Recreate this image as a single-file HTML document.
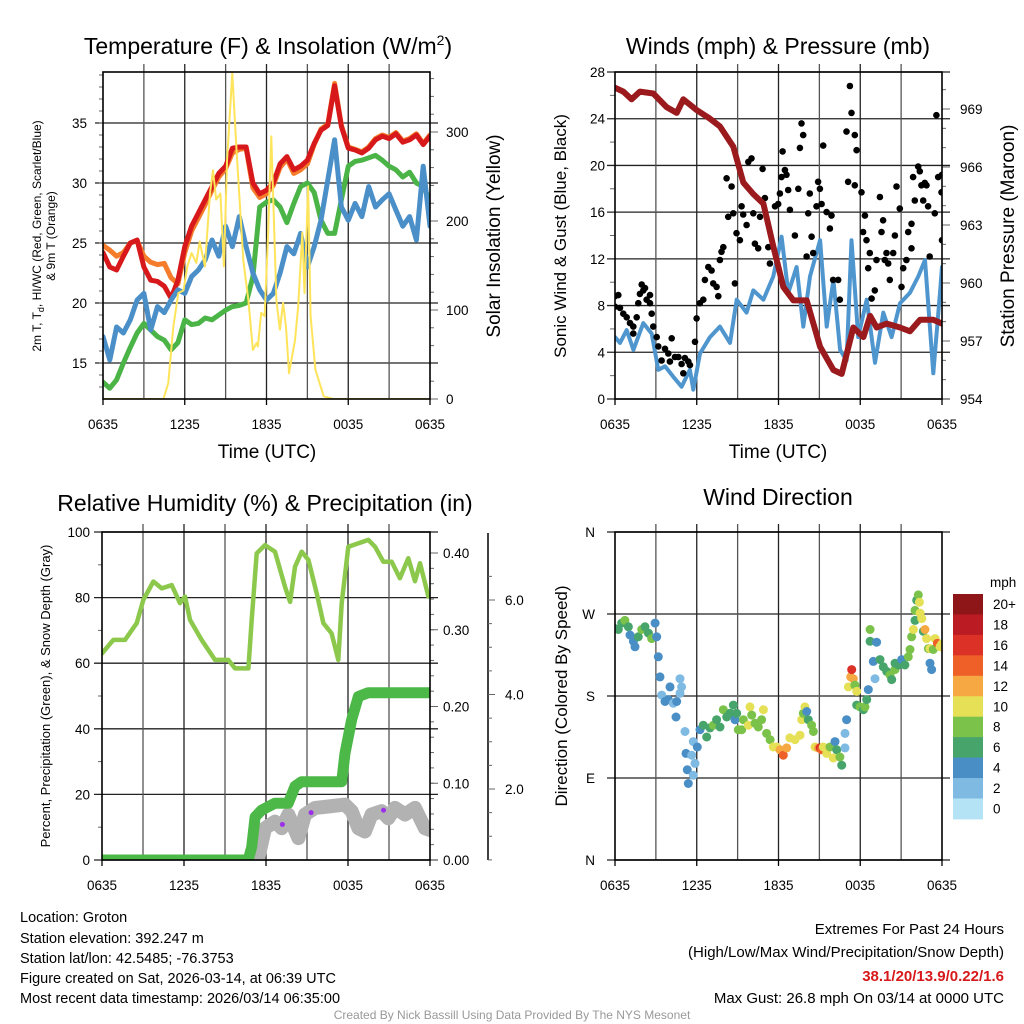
<!DOCTYPE html>
<html><head><meta charset="utf-8"><style>
html,body{margin:0;padding:0;background:#fff;}
svg{display:block;font-family:"Liberation Sans",Arial,sans-serif;}
</style></head><body>
<svg id="chart" width="1024" height="1024" viewBox="0 0 1024 1024" xmlns="http://www.w3.org/2000/svg">
<defs>
<clipPath id="c1"><rect x="103" y="72" width="327" height="327"/></clipPath>
<clipPath id="c2"><rect x="615" y="72" width="327" height="327"/></clipPath>
<clipPath id="c3"><rect x="102" y="532" width="328" height="328"/></clipPath>
<clipPath id="c4"><rect x="615" y="532" width="327" height="328"/></clipPath>
</defs>
<g id="g1"></g>
<g id="g2"></g>
<g id="g3"></g>
<g id="g4"></g>

<text x="268" y="54" font-size="23" text-anchor="middle">Temperature (F) &amp; Insolation (W/m<tspan font-size="14" dy="-9">2</tspan><tspan dy="9">)</tspan></text>
<text x="778" y="54" font-size="23" text-anchor="middle">Winds (mph) &amp; Pressure (mb)</text>
<text x="265" y="511" font-size="23" text-anchor="middle">Relative Humidity (%) &amp; Precipitation (in)</text>
<text x="778" y="505" font-size="23" text-anchor="middle">Wind Direction</text>

<text x="267" y="458" font-size="19" text-anchor="middle">Time (UTC)</text>
<text x="778" y="458" font-size="19" text-anchor="middle">Time (UTC)</text>

<text transform="translate(41,236) rotate(-90)" font-size="12" text-anchor="middle">2m T, T<tspan font-size="9" dy="3">d</tspan><tspan dy="-3">, HI/WC (Red, Green, Scarlet/Blue)</tspan></text>
<text transform="translate(55,236) rotate(-90)" font-size="12" text-anchor="middle">&amp; 9m T (Orange)</text>
<text transform="translate(500,236) rotate(-90)" font-size="19" text-anchor="middle">Solar Insolation (Yellow)</text>
<text transform="translate(566,236) rotate(-90)" font-size="17" text-anchor="middle">Sonic Wind &amp; Gust (Blue, Black)</text>
<text transform="translate(1014,236) rotate(-90)" font-size="19" text-anchor="middle">Station Pressure (Maroon)</text>
<text transform="translate(50,696) rotate(-90)" font-size="13" text-anchor="middle">Percent, Precipitation (Green), &amp; Snow Depth (Gray)</text>
<text transform="translate(567,696) rotate(-90)" font-size="17" text-anchor="middle">Direction (Colored By Speed)</text>

<g font-size="14.5">
<text x="20" y="922">Location: Groton</text>
<text x="20" y="943">Station elevation: 392.247 m</text>
<text x="20" y="963">Station lat/lon: 42.5485; -76.3753</text>
<text x="20" y="983">Figure created on Sat, 2026-03-14, at 06:39 UTC</text>
<text x="20" y="1003">Most recent data timestamp: 2026/03/14 06:35:00</text>
</g>
<g font-size="15" text-anchor="end">
<text x="1004" y="934">Extremes For Past 24 Hours</text>
<text x="1004" y="957">(High/Low/Max Wind/Precipitation/Snow Depth)</text>
<text x="1004" y="981" fill="#d7191c" font-weight="bold">38.1/20/13.9/0.22/1.6</text>
<text x="1004" y="1003">Max Gust: 26.8 mph On 03/14 at 0000 UTC</text>
</g>
<text x="512" y="1019" font-size="12" fill="#999" text-anchor="middle">Created By Nick Bassill Using Data Provided By The NYS Mesonet</text>
</svg>
<script>
// ---------- DATA ----------
const timeLabels = ["0635","1235","1835","0035","0635"];
const tempRed = [24.2,23.0,22.75,23.9,25.0,25.25,23.0,21.9,21.8,21.4,20.4,21.9,24.7,26.4,27.5,28.6,29.7,30.8,31.4,32.9,33.0,33.0,30.0,29.1,29.4,30.0,31.6,32.2,31.1,31.4,31.9,33.3,34.4,34.8,38.1,34.7,32.9,32.75,32.5,32.9,33.6,33.9,33.7,34.1,33.4,33.6,34.0,33.2,33.9];
const tempOrange = [24.8,24.4,23.9,24.2,25.0,25.2,23.9,23.4,23.2,23.3,22.1,21.6,24.2,26.0,27.1,28.2,29.4,30.5,31.2,32.5,32.8,32.9,29.6,28.8,29.1,29.8,31.3,32.0,30.8,31.1,31.6,33.2,34.5,34.9,38.3,34.8,33.0,32.8,32.6,33.0,33.7,34.0,33.8,34.2,33.5,33.7,34.1,33.3,34.0];
const dewGreen = [13.4,12.9,13.6,15.0,16.3,17.5,18.3,17.75,17.2,16.9,16.1,16.7,18.6,18.2,18.3,18.75,18.6,19.0,19.4,19.7,19.8,20.0,22.2,28.0,28.4,28.6,28.0,26.7,28.3,29.7,30.0,29.2,26.9,25.8,25.8,28.6,31.4,31.8,31.9,32.1,32.3,31.9,31.4,31.1,30.5,30.9,30.0,29.7,28.6];
const wcBlue = [17.2,15.25,18.0,17.5,18.6,20.25,20.8,17.75,19.7,19.2,20.25,21.1,20.8,22.2,22.75,23.6,25.25,23.9,26.4,24.7,27.2,24.7,22.5,21.1,20.25,20.8,22.5,24.7,24.1,25.8,23.0,24.7,26.9,30.25,33.6,28.0,26.9,28.3,27.2,29.7,28.0,28.6,29.1,27.75,26.4,27.2,25.25,31.4,26.4];
const solarHours = [0,4.43,4.79,5.16,5.53,5.91,6.19,6.5,6.85,7.1,7.48,7.85,8.07,8.31,8.62,8.87,9.11,9.49,9.81,10.3,10.67,11.0,11.27,11.37,11.61,11.86,12.11,12.35,12.73,12.98,13.22,13.43,13.65,14.09,14.33,14.63,14.79,15.05,15.24,15.59,16.2,16.9,24];
const solarValues = [0,0,18,81,119,122,149,164,153,177,149,231,257,224,231,149,269,366,276,156,111,55,63,59,97,93,182,295,111,78,108,81,29,66,104,187,119,239,93,33,3,0,0];
const windHours = [0,0.37,0.86,1.35,2.08,2.69,3.18,3.67,4.28,4.89,5.5,5.75,6.24,6.97,7.7,8.44,8.93,9.66,10.15,10.89,11.62,12.23,12.72,13.33,13.82,14.31,15.05,15.54,16.03,16.52,17.0,17.36,17.85,18.47,19.08,19.69,20.3,20.92,21.65,22.26,22.75,23.36,23.85,24];
const windSpeed = [5.3,4.8,5.9,4.2,6.5,5.6,2.5,2.8,1.9,1.05,2.5,0.8,3.9,5.3,6.2,4.8,8.5,7.4,9.3,8.5,10.5,13.9,9.1,11.3,6.2,10.5,13.6,6.2,10.2,4.2,3.3,13.6,5.3,8.5,3.1,7.4,5.3,8.2,9.1,10.5,11.9,2.2,9.1,11.3];
const presHours = [0,0.61,1.22,1.83,2.81,3.79,4.53,5.01,5.99,6.97,7.7,8.68,9.42,10.15,10.89,11.62,12.35,13.09,14.07,15.05,16.03,16.64,17.49,18.23,18.72,19.21,19.94,20.92,21.65,22.39,23.36,24];
const presValues = [970.1,969.9,969.5,969.9,969.8,969.1,968.8,969.5,968.95,968.5,968.1,967.05,965.2,964.6,964.1,961.9,959.8,959.1,959.1,956.7,955.5,955.3,957.7,957.2,958.3,957.7,957.9,957.7,957.5,958.1,958.1,957.9];
const gustHours = [0,0.24,0,0.37,0.61,0.86,1.10,1.34,1.34,1.59,1.71,1.83,1.96,2.08,2.20,2.32,2.57,2.57,2.69,2.81,3.06,3.18,3.42,3.67,3.91,4.16,4.03,4.40,4.65,4.89,5.01,5.13,5.38,5.50,5.87,5.99,6.23,6.48,6.60,6.85,7.09,7.21,7.46,7.58,7.70,7.82,7.95,8.19,8.31,8.56,8.68,8.80,8.92,9.17,9.29,9.41,9.66,9.78,10.02,10.15,10.27,10.51,10.64,10.83,11.00,11.25,11.37,11.74,11.98,12.10,12.22,12.30,12.47,12.59,12.71,12.84,13.20,13.45,13.57,13.69,13.81,14.06,14.18,14.30,14.43,14.55,14.79,14.91,15.04,15.16,15.28,15.53,15.77,15.89,16.01,16.38,16.50,16.99,17.11,17.24,17.36,17.60,17.73,17.60,18.09,18.21,18.34,18.46,18.70,18.58,18.83,19.07,19.19,19.44,19.56,19.68,19.80,20.05,20.17,20.42,20.54,20.66,20.90,21.15,21.39,21.52,21.76,21.88,22.00,22.25,22.37,22.49,22.62,22.86,22.98,23.10,23.47,23.59,23.72,23.96,24,24,22.74,21.03,19.93,21.76];
const gustSpeed = [8.8,8.9,7.9,7.8,7.3,7.0,6.5,5.6,6.2,7.0,8.2,9.0,9.8,9.3,9.5,8.5,8.9,8.2,7.3,6.2,5.3,4.5,3.3,4.3,3.9,5.2,3.2,3.6,3.6,3.0,2.2,3.5,3.2,2.9,4.9,6.9,8.2,8.5,10.2,11.3,11.0,9.9,9.6,8.8,11.9,12.6,13.0,18.9,15.6,18.2,15.9,9.9,14.2,13.6,16.5,15.8,14.9,20.3,20.6,15.9,13.3,12.9,15.6,19.7,17.2,13.0,11.6,16.5,16.7,17.6,19.0,21.2,19.6,19.2,17.9,16.2,14.0,18.0,21.5,23.6,22.6,12.2,15.9,17.6,13.9,12.5,16.5,18.6,18.0,16.7,21.7,16.0,14.6,15.7,10.2,10.2,8.5,22.9,18.6,26.8,24.5,22.6,21.3,18.3,17.7,14.3,15.7,13.6,12.5,11.2,8.6,9.3,11.9,17.3,14.3,15.3,11.9,11.6,10.2,12.5,14.0,18.2,16.3,11.2,11.9,14.3,15.0,19.0,17.0,19.9,19.5,18.3,17.0,18.3,16.5,12.2,15.9,24.3,19.0,17.7,13.6,19.2,18.5,9.6,12.5,12.9];
const rhHours = [0,0.83,1.68,2.54,3.02,3.76,4.37,5.1,5.71,6.07,6.44,7.29,8.27,9.24,9.73,10.71,10.95,11.32,11.93,12.66,13.39,13.76,14.12,14.61,15.1,15.71,16.2,16.8,17.29,17.54,18.02,19.49,19.98,20.59,21.2,21.8,22.41,22.9,23.27,23.88,24];
const rhValues = [63.0,67.1,67.1,72.2,79.3,84.9,82.8,83.8,78.3,80.3,73.2,67.1,61.0,61.0,58.4,58.4,73.2,93.5,96.0,94.0,83.3,78.7,89.4,94.0,91.5,81.3,72.2,69.1,61.0,78.3,95.5,97.6,95.5,90.9,90.9,85.9,92.0,85.0,90.5,80.3,80.3];
const precipHours = [0,10.7,10.95,11.2,11.68,12.66,13.63,14.12,14.6,17.54,17.78,18.27,18.76,19.49,24];
const precipValues = [0,0,0.017,0.056,0.065,0.074,0.074,0.096,0.102,0.102,0.139,0.183,0.213,0.218,0.218];
const snowHours = [11.2,11.44,11.93,12.66,13.15,13.63,14.37,14.85,15.59,16.56,17.78,18.27,18.76,19.24,19.73,20.46,20.95,21.44,22.17,22.9,23.63,24];
const snowValues = [0.4,0.54,1.17,1.31,1.17,1.46,0.96,1.46,1.60,1.63,1.67,1.53,1.17,1.10,1.46,1.53,1.38,1.60,1.46,1.60,1.17,1.13];
const dirHours = [0,.24,.49,.73,.98,1.1,1.35,1.47,1.71,1.96,2.2,2.45,2.69,2.94,3.06,3.18,3.3,3.43,3.67,3.91,4.04,4.28,4.53,4.77,4.89,4.77,4.48,5.14,5.21,5.31,5.38,5.63,5.75,5.87,5.75,6.04,6.24,6.48,6.73,6.97,7.22,7.46,7.71,7.95,8.2,8.44,8.69,8.81,8.93,9.05,9.3,9.42,9.79,9.91,10.03,10.28,10.52,10.76,10.89,11.13,11.38,11.62,11.87,12.11,12.35,12.6,12.84,13.21,13.58,13.7,13.82,13.94,14.07,14.19,14.43,14.56,14.68,14.92,15.05,15.17,15.29,15.54,15.78,16.02,16.15,16.27,16.51,16.64,16.88,16.88,17,17.13,17.3,17.37,17.49,17.61,17.74,17.74,17.98,18.23,18.35,18.47,18.59,18.72,18.72,19.2,18.96,19.08,19.45,19.69,19.94,20.18,20.31,20.55,20.55,20.8,21.04,21.28,21.53,21.65,21.77,21.9,22.02,22.02,22.14,22.26,22.34,22.39,22.51,22.63,22.75,22.87,23,23.12,23.24,23.36,23.49,23.66,23.85,23.98,23.12];
const dirDegrees = [254,253,260,263,256,247,240,234,245,253,256,249,243,260,245,223,201,181,174,176,190,172,174,199,190,183,157,141,117,99,84,115,130,106,93,124,143,148,135,145,148,154,146,165,157,161,170,154,161,143,143,154,148,168,159,150,146,154,165,139,132,124,124,121,115,123,134,132,137,154,161,168,163,154,148,141,124,123,123,121,124,117,124,112,130,121,113,104,139,123,154,190,201,209,199,192,185,170,168,165,168,176,187,253,240,239,218,199,220,212,207,203,198,209,216,214,220,214,223,231,245,253,263,274,285,291,283,271,265,251,253,243,232,232,209,231,243,238,234,237,216];
const dirSpeeds = [5,6,6,7,5,4,4,4,6,7,6,5,7,4,3,3,3,2,3,3,4,2,3,1,1,1,3,1,3,3,3,1,1,2,2,4,4,5,5,6,7,6,6,7,6,5,5,4,5,8,7,8,10,9,8,7,7,8,9,7,8,9,10,12,13,12,10,10,10,10,8,10,4,6,7,7,10,11,15,13,10,9,7,9,4,5,7,6,2,2,4,10,12,15,12,8,10,6,7,6,8,5,4,8,5,4,4,2,6,6,5,7,6,8,5,6,4,5,8,8,8,10,6,8,5,7,10,10,10,6,12,10,7,9,4,7,10,13,10,10,4];
const speedLabels = ["20+","18","16","14","12","10","8","6","4","2","0"];
const speedColors = ["#8e1518","#bb1c24","#dc3127","#ef6029","#f6a843","#e5e056","#7bc24a","#47a56c","#4a8ec6","#7fbae3","#b5e3f6"];

// ---------- HELPERS ----------
const NS="http://www.w3.org/2000/svg";
function mk(tag, parent){const e=document.createElementNS(NS,tag);parent.appendChild(e);return e;}
function setA(e,o){for(const k in o)e.setAttribute(k,o[k]);return e;}
function lin(d0,d1,r0,r1){return v=>r0+(v-d0)*(r1-r0)/(d1-d0);}
const halfHours = tempRed.map((_,i)=>i*0.5);

function frame(g,x0,x1,y0,y1,name){
  const r=setA(mk('rect',g),{x:x0,y:y0,width:x1-x0,height:y1-y0,fill:'none',stroke:'#000','stroke-width':1.6});
  
  
}
function vgrid(g,xs,x0,x1,y0,y1,name){
  for(let h=3;h<24;h+=3){
    const x=xs(h);
    const l=setA(mk('line',g),{x1:x,x2:x,y1:y0-8,y2:y1,stroke:h%6==0?'#222':'#555','stroke-width':1.3});
    
    
  }
  for(let i=0;i<timeLabels.length;i++){
    const x=xs(i*6);
    const t=setA(mk('line',g),{x1:x,x2:x,y1:y1,y2:y1+6,stroke:'#000','stroke-width':1.3});
    
    
    const tx=setA(mk('text',g),{x:x,y:y1+30,'font-size':13.5,'text-anchor':'middle'});
    tx.textContent=timeLabels[i];
    
    
  }
}
function hgrid(g,y,x0,x1,name){
  const l=setA(mk('line',g),{x1:x0-8,x2:x1+8,y1:y,y2:y,stroke:'#222','stroke-width':1.3});
  
  
}
function label(g,x,y,txt,anchor,size,name){
  const t=setA(mk('text',g),{x:x,y:y+5,'font-size':size||13.5,'text-anchor':anchor});
  t.textContent=txt;
  
  
}
function tick(g,x,y,len,name){
  const l=setA(mk('line',g),{x1:x,x2:x+len,y1:y,y2:y,stroke:'#666','stroke-width':1});
  
  
}
function pathD(hs,vs,xs,ys){return hs.map((h,i)=>(i?'L':'M')+xs(h).toFixed(1)+','+ys(vs[i]).toFixed(1)).join('');}
function line(g,hs,vs,xs,ys,color,w,name,clip){
  const p=setA(mk('path',g),{d:pathD(hs,vs,xs,ys),fill:'none',stroke:color,'stroke-width':w,'stroke-linejoin':'round','stroke-linecap':'round','clip-path':'url(#'+clip+')'});
  
  
}

// ---------- PANEL 1 ----------
(function(){
  const g=document.getElementById('g1');
  const x0=103,x1=430,y0=72,y1=399;
  const xs=lin(0,24,x0,x1), yT=lin(15,35,363,123), yS=lin(0,300,399,132);
  [15,20,25,30,35].forEach(v=>{hgrid(g,yT(v),x0,x1,'temp');label(g,x0-16,yT(v),String(v),'end',13.5,'temp-y-tick-label');});
  for(let v=13;v<=39;v++){tick(g,x0,yT(v),-4,'temp-minor-tick');}
  [0,100,200,300].forEach(v=>{tick(g,x1,yS(v),8,'solar-tick');label(g,x1+16,yS(v),String(v),'start',13.5,'solar-y-tick-label');});
  for(let v=20;v<=360;v+=20){tick(g,x1,yS(v),4,'solar-minor-tick');}
  vgrid(g,xs,x0,x1,y0,y1,'temp');
  line(g,halfHours,tempOrange,xs,yT,'#f47c2b',5,'orange-9m-temp-line','c1');
  line(g,halfHours,tempRed,xs,yT,'#d7191c',5,'red-2m-temp-line','c1');
  line(g,halfHours,dewGreen,xs,yT,'#4bb447',5,'green-dewpoint-line','c1');
  line(g,halfHours,wcBlue,xs,yT,'#4a8fc8',5,'blue-windchill-line','c1');
  line(g,solarHours,solarValues,xs,yS,'#fde45b',2,'yellow-insolation-line','c1');
  frame(g,x0,x1,y0,y1,'temp');
})();

// ---------- PANEL 2 ----------
(function(){
  const g=document.getElementById('g2');
  const x0=615,x1=942,y0=72,y1=399;
  const xs=lin(0,24,x0,x1), yW=lin(0,28,399,72), yP=lin(954,969,399,109);
  [0,4,8,12,16,20,24,28].forEach(v=>{hgrid(g,yW(v),x0,x1,'wind');label(g,x0-10,yW(v),String(v),'end',13.5,'wind-y-tick-label');});
  for(let v=2;v<28;v+=4){tick(g,x0,yW(v),-5,'wind-minor-tick');}
  [954,957,960,963,966,969].forEach(v=>{tick(g,x1,yP(v),8,'pressure-tick');label(g,x1+18,yP(v),String(v),'start',13.5,'pressure-y-tick-label');});
  for(let v=955;v<=970;v++){tick(g,x1,yP(v),4,'pressure-minor-tick');}
  vgrid(g,xs,x0,x1,y0,y1,'wind');
  line(g,windHours,windSpeed,xs,yW,'#4f96cf',4,'blue-sonic-wind-line','c2');
  for(let i=0;i<gustHours.length;i++){
    const c=setA(mk('circle',g),{cx:xs(gustHours[i]).toFixed(1),cy:yW(gustSpeed[i]).toFixed(1),r:3.3,fill:'#000','clip-path':'url(#c2)'});
    
    
  }
  line(g,presHours,presValues,xs,yP,'#9a1a1d',6,'maroon-pressure-line','c2');
  frame(g,x0,x1,y0,y1,'wind');
})();

// ---------- PANEL 3 ----------
(function(){
  const g=document.getElementById('g3');
  const x0=102,x1=430,y0=532,y1=860;
  const xs=lin(0,24,x0,x1), yR=lin(0,100,860,532), yPr=lin(0,0.4,860,553), ySn=lin(2,6,789,600);
  [0,20,40,60,80,100].forEach(v=>{hgrid(g,yR(v),x0,x1,'rh');label(g,x0-12,yR(v),String(v),'end',13.5,'rh-y-tick-label');});
  for(let v=10;v<100;v+=20){tick(g,x0,yR(v),-4,'rh-minor-tick');}
  [0,0.1,0.2,0.3,0.4].forEach(v=>{tick(g,x1,yPr(v),8,'precip-tick');label(g,x1+13,yPr(v),v.toFixed(2),'start',13.5,'precip-y-tick-label');});
  for(let v=0.02;v<0.42;v+=0.02){tick(g,x1,yPr(v),4,'precip-minor-tick');}
  const ax=setA(mk('line',g),{x1:488,x2:488,y1:533,y2:860,stroke:'#000','stroke-width':1.5});
  
  
  [2,4,6].forEach(v=>{tick(g,488,ySn(v),7,'snow-tick');label(g,505,ySn(v),v.toFixed(1),'start',13.5,'snow-y-tick-label');});
  for(let v=0.5;v<=6.8;v+=0.5){if(v%2)tick(g,488,ySn(v),4,'snow-minor-tick');}
  vgrid(g,xs,x0,x1,y0,y1,'rh');
  line(g,rhHours,rhValues,xs,yR,'#8cc84b',4.5,'rh-line','c3');
  line(g,snowHours,snowValues,xs,ySn,'#b2b2b2',14,'snow-depth-line','c3');
  line(g,precipHours,precipValues,xs,yPr,'#4cb848',11,'precip-line','c3');
  [[13.2,1.25],[15.3,1.5],[20.6,1.55]].forEach(p=>{
    const c=setA(mk('circle',g),{cx:xs(p[0]),cy:ySn(p[1]),r:2.5,fill:'#9b30e8'});
    
    
  });
  frame(g,x0,x1,y0,y1,'rh');
})();

// ---------- PANEL 4 ----------
(function(){
  const g=document.getElementById('g4');
  const x0=615,x1=942,y0=532,y1=860;
  const xs=lin(0,24,x0,x1), yD=lin(0,360,860,532);
  const dl=["N","E","S","W","N"];
  [0,90,180,270,360].forEach((v,i)=>{hgrid(g,yD(v),x0,x1,'dir');label(g,x0-20,yD(v),dl[i],'end',13.5,'dir-y-tick-label');});
  vgrid(g,xs,x0,x1,y0,y1,'dir');
  for(let i=0;i<dirHours.length;i++){
    let ci=10-Math.min(10,Math.round(dirSpeeds[i]/2));
    const c=setA(mk('circle',g),{cx:xs(dirHours[i]).toFixed(1),cy:yD(dirDegrees[i]).toFixed(1),r:4.5,fill:speedColors[ci],'clip-path':'url(#c4)'});
    
    
  }
  frame(g,x0,x1,y0,y1,'dir');
  const u=setA(mk('text',g),{x:990,y:587,'font-size':13.5});
  u.textContent='mph';
  
  
  for(let i=0;i<speedLabels.length;i++){
    const r=setA(mk('rect',g),{x:953,y:594+i*20.45,width:30,height:20.9,fill:speedColors[i]});
    
    
    label(g,993,604+i*20.45,speedLabels[i],'start',13.5,'colorbar-label');
  }
})();
</script>
</body></html>
